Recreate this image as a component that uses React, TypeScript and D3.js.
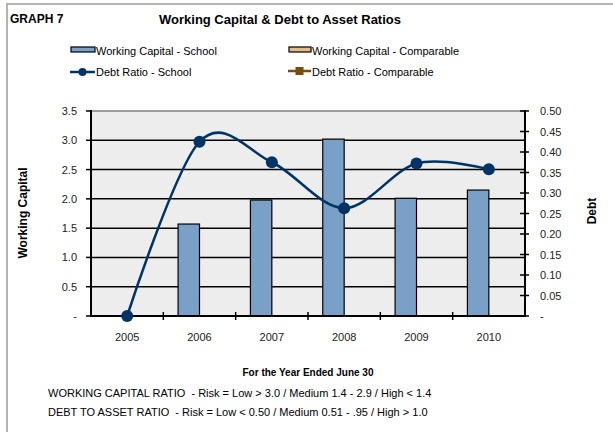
import React from "react";
import * as d3 from "d3";

const years = ["2005", "2006", "2007", "2008", "2009", "2010"];
const wcSchool = [0, 1.57, 1.98, 3.02, 2.01, 2.15];
const wcComparable = [0, 0, 0, 0, 0, 0];
const debtSchool = [0, 0.425, 0.375, 0.263, 0.372, 0.358];
const leftTicks = [0, 0.5, 1.0, 1.5, 2.0, 2.5, 3.0, 3.5];
const rightTicks = [0, 0.05, 0.1, 0.15, 0.2, 0.25, 0.3, 0.35, 0.4, 0.45, 0.5];
const notes = [
  "WORKING CAPITAL RATIO  - Risk = Low > 3.0 / Medium 1.4 - 2.9 / High < 1.4",
  "DEBT TO ASSET RATIO  - Risk = Low < 0.50 / Medium 0.51 - .95 / High > 1.0",
];

const FONT = "'Liberation Sans', Arial, sans-serif";

export default function App() {
  const W = 613, H = 432;
  const left = 91, right = 525, top = 111, bottom = 316;
  const x = d3.scaleBand().domain(years).range([left, right]).padding(0);
  const yL = d3.scaleLinear().domain([0, 3.5]).range([bottom, top]);
  const yR = d3.scaleLinear().domain([0, 0.5]).range([bottom, top]);
  const bw = x.bandwidth() * 0.296;
  const center = (c: string) => (x(c) as number) + x.bandwidth() / 2;
  const line = d3
    .line<number>()
    .x((_, i) => center(years[i]))
    .y((d) => yR(d))
    .curve(d3.curveCardinal.tension(0));
  const navy = "#003366";

  return (
    <svg width={W} height={H} style={{ position: "absolute", left: 0, top: 0 }} fontFamily={FONT}>
      <rect x={0} y={0} width={W} height={H} fill="#fff" />
      <rect x={7} y={4} width={W + 10} height={H + 10} fill="none" stroke="#b4b4b4" strokeWidth={2} />
      <text x={10} y={23} fontSize={12} fontWeight="bold">GRAPH 7</text>
      <text x={280} y={24} fontSize={13} fontWeight="bold" textAnchor="middle">
        Working Capital &amp; Debt to Asset Ratios
      </text>
      {/* legend */}
      <g fontSize={11}>
        <rect x={71} y={47} width={24} height={5} fill="#7aa0c8" stroke="#000" strokeWidth={1.2} />
        <text x={96} y={55}>Working Capital - School</text>
        <rect x={289} y={47} width={22} height={5} fill="#e3bd85" stroke="#000" strokeWidth={1.2} />
        <text x={312} y={55}>Working Capital - Comparable</text>
        <line x1={70} x2={95} y1={72} y2={72} stroke={navy} strokeWidth={2.5} />
        <circle cx={82.5} cy={72} r={4} fill={navy} />
        <text x={96} y={76}>Debt Ratio - School</text>
        <line x1={288} x2={311} y1={71} y2={71} stroke="#7a4a0a" strokeWidth={2.5} />
        <rect x={295.5} y={67} width={8} height={8} fill="#7a4a0a" />
        <text x={312} y={76}>Debt Ratio - Comparable</text>
      </g>
      {/* plot area */}
      <rect x={left} y={top} width={right - left} height={bottom - top} fill="#ededed" />
      <line x1={left} x2={right} y1={top} y2={top} stroke="#808080" strokeWidth={1.5} />
      {leftTicks.slice(1, -1).map((t) => (
        <line key={t} x1={left} x2={right} y1={yL(t)} y2={yL(t)} stroke="#000" strokeWidth={1.5} />
      ))}
      {/* bars */}
      {years.map((c, i) => (
        <g key={c}>
          {wcSchool[i] > 0 && (
            <rect x={center(c) - bw} y={yL(wcSchool[i])} width={bw} height={bottom - yL(wcSchool[i])}
              fill="#7aa0c8" stroke="#000" strokeWidth={1.2} />
          )}
          {wcComparable[i] > 0 && (
            <rect x={center(c)} y={yL(wcComparable[i])} width={bw} height={bottom - yL(wcComparable[i])}
              fill="#e3bd85" stroke="#000" strokeWidth={1.2} />
          )}
        </g>
      ))}
      {/* axes */}
      <line x1={left} x2={left} y1={top - 1} y2={bottom} stroke="#000" strokeWidth={2} />
      <line x1={right} x2={right} y1={top - 1} y2={bottom} stroke="#000" strokeWidth={2} />
      <line x1={left - 1} x2={right + 1} y1={bottom} y2={bottom} stroke="#000" strokeWidth={2} />
      {leftTicks.map((t) => (
        <g key={t}>
          <line x1={left - 5} x2={left} y1={yL(t)} y2={yL(t)} stroke="#000" strokeWidth={1.5} />
          <text x={77} y={yL(t) + 4} fontSize={11} textAnchor="end" fill="#222">
            {t === 0 ? "-" : t.toFixed(1)}
          </text>
        </g>
      ))}
      {rightTicks.map((t) => (
        <g key={t}>
          <line x1={right - 5} x2={right + 4} y1={yR(t)} y2={yR(t)} stroke="#000" strokeWidth={1.5} />
          <text x={540} y={yR(t) + 4} fontSize={11} fill="#222">
            {t === 0 ? "-" : t.toFixed(2)}
          </text>
        </g>
      ))}
      {years.map((c, i) => (
        <g key={c}>
          {i > 0 && (
            <line x1={x(c)} x2={x(c)} y1={bottom - 4} y2={bottom + 4} stroke="#000" strokeWidth={1.5} />
          )}
          <text x={center(c)} y={341} fontSize={11} textAnchor="middle" fill="#222">{c}</text>
        </g>
      ))}
      {/* debt line */}
      <path d={line(debtSchool) || ""} fill="none" stroke={navy} strokeWidth={2.5} />
      {debtSchool.map((d, i) => (
        <circle key={i} cx={center(years[i])} cy={yR(d)} r={6} fill={navy} />
      ))}
      {/* axis titles */}
      <text transform="translate(27,213) rotate(-90)" fontSize={12} fontWeight="bold" textAnchor="middle">
        Working Capital
      </text>
      <text transform="translate(596,211) rotate(-90)" fontSize={12} fontWeight="bold" textAnchor="middle">
        Debt
      </text>
      <text x={308} y={376} fontSize={10} fontWeight="bold" textAnchor="middle">For the Year Ended June 30</text>
      {notes.map((n, i) => (
        <text key={i} x={48} y={397 + i * 19} fontSize={11} style={{ whiteSpace: "pre" }}>
          {n}
        </text>
      ))}
    </svg>
  );
}
